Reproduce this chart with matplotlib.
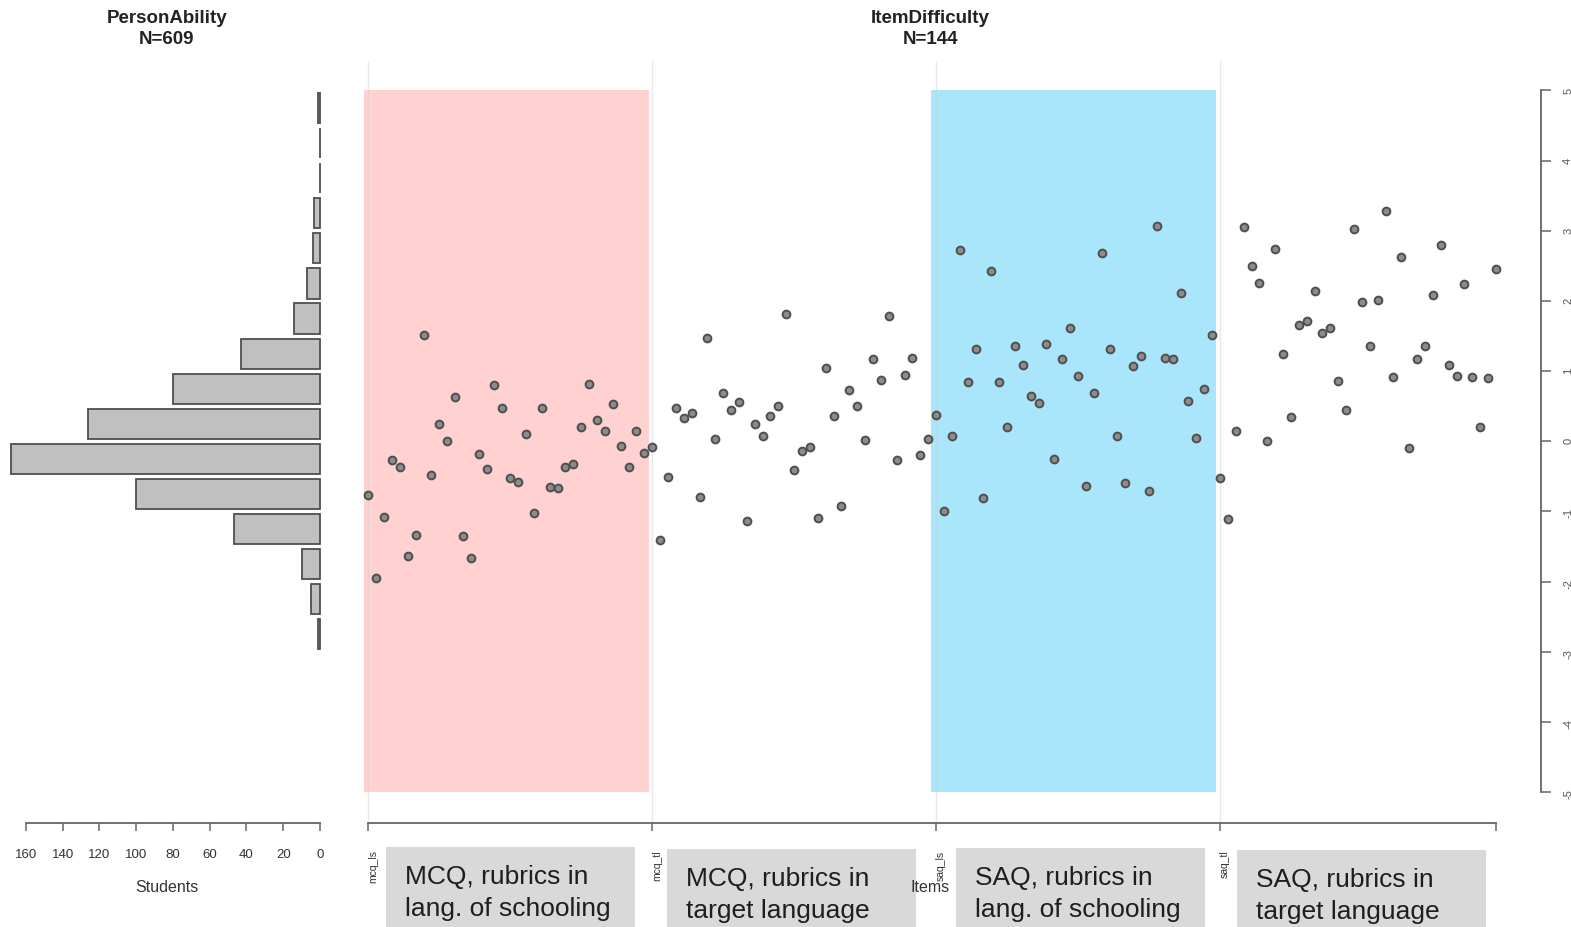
import matplotlib
matplotlib.use("Agg")
import matplotlib.pyplot as plt
from matplotlib.patches import Rectangle
import numpy as np

plt.rcParams['font.family'] = ['Liberation Sans', 'DejaVu Sans']

W, H, DPI = 1571, 928, 100

# ---------------- data ----------------
bin_centers = [4.75, 4.25, 3.75, 3.25, 2.75, 2.25, 1.75, 1.25, 0.75, 0.25,
               -0.25, -0.75, -1.25, -1.75, -2.25, -2.75]
person_counts = [1, 0, 0, 3, 4, 7, 14, 43, 80, 126, 168, 100, 47, 10, 5, 1]

mcq_ls = [-0.77, -1.95, -1.08, -0.26, -0.37, -1.64, -1.34, 1.51, -0.48, 0.24,
          0.01, 0.63, -1.35, -1.66, -0.18, -0.40, 0.80, 0.48, -0.53, -0.58,
          0.10, -1.02, 0.48, -0.65, -0.67, -0.37, -0.33, 0.21, 0.81, 0.30,
          0.14, 0.53, -0.06, -0.36, 0.14, -0.16]
mcq_tl = [-0.08, -1.40, -0.51, 0.47, 0.33, 0.40, -0.80, 1.47, 0.03, 0.69,
          0.44, 0.56, -1.14, 0.24, 0.07, 0.36, 0.50, 1.81, -0.41, -0.14,
          -0.08, -1.09, 1.04, 0.36, -0.92, 0.73, 0.51, 0.02, 1.18, 0.87,
          1.79, -0.26, 0.95, 1.19, -0.19, 0.03]
saq_ls = [0.38, -0.99, 0.08, 2.73, 0.85, 1.32, -0.81, 2.42, 0.85, 0.21,
          1.36, 1.09, 0.65, 0.54, 1.38, -0.25, 1.18, 1.61, 0.93, -0.64,
          0.69, 2.69, 1.32, 0.08, -0.59, 1.07, 1.22, -0.71, 3.07, 1.19,
          1.17, 2.12, 0.57, 0.05, 0.75, 1.52]
saq_tl = [-0.52, -1.11, 0.15, 3.05, 2.50, 2.25, 0.01, 2.74, 1.25, 0.35,
          1.66, 1.71, 2.14, 1.55, 1.62, 0.86, 0.44, 3.02, 1.99, 1.36,
          2.01, 3.28, 0.92, 2.62, -0.10, 1.18, 1.36, 2.09, 2.80, 1.09,
          0.93, 2.24, 0.91, 0.21, 0.90, 2.45]

group_labels = ["mcq_ls", "mcq_tl", "saq_ls", "saq_tl"]
group_colors = ["#FFD1D1", None, "#A9E5FB", None]
box_texts = ["MCQ, rubrics in\nlang. of schooling",
             "MCQ, rubrics in\ntarget language",
             "SAQ, rubrics in\nlang. of schooling",
             "SAQ, rubrics in\ntarget language"]
logit_ticks = [5, 4, 3, 2, 1, 0, -1, -2, -3, -4, -5]
student_ticks = [0, 20, 40, 60, 80, 100, 120, 140, 160]

# ---------------- layout helpers ----------------
def fig_rect(l, t, r, b):
    return [l / W, 1 - b / H, (r - l) / W, (b - t) / H]

NARROW = ['Liberation Sans Narrow', 'Liberation Sans', 'DejaVu Sans']
AX_COL = '#666666'
YLIM = (-5.44, 5.42)

fig = plt.figure(figsize=(W / DPI, H / DPI), dpi=DPI)
fig.patch.set_facecolor('white')

# ---------------- item difficulty panel ----------------
groups = [mcq_ls, mcq_tl, saq_ls, saq_tl]
values = np.concatenate(groups)
n_items = len(values)
items = np.arange(1, n_items + 1)
gsize = len(mcq_ls)

ax = fig.add_axes(fig_rect(340, 62, 1541, 824))
ax.patch.set_visible(False)
ax.set_xlim(-2.589, 149.71)
ax.set_ylim(*YLIM)

for g, col in enumerate(group_colors):
    if col:
        ax.add_patch(Rectangle((g * gsize + 0.4, -5), gsize + 0.15, 10,
                               facecolor=col, edgecolor='none', zorder=1))
for g in range(len(groups)):
    ax.axvline(g * gsize + 1, color='#d0d0d0', lw=1.0, alpha=0.45, zorder=1.5)

ax.plot(items, values, 'o', ms=5.6, mfc='#8c8c8c', mec='#4f4f4f', mew=1.4,
        zorder=3, clip_on=False)

for s in ['left', 'top']:
    ax.spines[s].set_visible(False)
ax.spines['bottom'].set_bounds(1, n_items)
ax.spines['right'].set_bounds(-5, 5)
for s in ['bottom', 'right']:
    ax.spines[s].set_color(AX_COL)
    ax.spines[s].set_linewidth(1.3)

tick_pos = [g * gsize + 1 for g in range(len(groups))] + [n_items]
ax.set_xticks(tick_pos)
ax.set_xticklabels(group_labels + [''])
ax.tick_params(axis='x', direction='out', length=6, width=1.1, color=AX_COL,
               labelsize=7.5, labelrotation=90, pad=13, labelcolor='#333333')
ax.yaxis.tick_right()
ax.set_yticks(logit_ticks)
ax.set_yticklabels([str(t) for t in logit_ticks])
ax.tick_params(axis='y', direction='out', length=7, width=1.1, color=AX_COL,
               labelsize=8, labelrotation=90, pad=9, labelcolor='#555555')
for lbl in ax.get_xticklabels() + ax.get_yticklabels():
    lbl.set_fontfamily(NARROW)
for lbl in ax.get_xticklabels():
    lbl.set_horizontalalignment('left')

# ---------------- person ability histogram ----------------
hx = fig.add_axes(fig_rect(26, 62, 320, 824))
hx.patch.set_visible(False)
hx.barh(bin_centers, person_counts, height=0.43, color='#c0c0c0',
        edgecolor='#4f4f4f', linewidth=1.3, zorder=2, clip_on=False)
hx.set_xlim(160, 0)
hx.set_ylim(*YLIM)
for s in ['left', 'top', 'right']:
    hx.spines[s].set_visible(False)
hx.spines['bottom'].set_bounds(0, 160)
hx.spines['bottom'].set_color(AX_COL)
hx.spines['bottom'].set_linewidth(1.3)
hx.set_yticks([])
hx.set_xticks(student_ticks)
hx.set_xticklabels([str(t) for t in student_ticks])
hx.tick_params(axis='x', direction='out', length=6, width=1.1, color=AX_COL,
               labelsize=9.5, pad=12, labelcolor='#333333')
for lbl in hx.get_xticklabels():
    lbl.set_fontfamily(NARROW)

# ---------------- titles and axis names ----------------
fig.text(167 / W, 1 - 29 / H, f"PersonAbility\nN={sum(person_counts)}",
         ha='center', va='center', fontsize=13.5, fontweight='bold',
         linespacing=1.25, color='#222222')
fig.text(930 / W, 1 - 29 / H, f"ItemDifficulty\nN={n_items}",
         ha='center', va='center', fontsize=13.5, fontweight='bold',
         linespacing=1.25, color='#222222')
fig.text(167 / W, 1 - 888 / H, "Students", ha='center', va='center',
         fontsize=11.5, color='#333333', family=NARROW)
fig.text(930 / W, 1 - 888 / H, "Items", ha='center', va='center',
         fontsize=11.5, color='#333333', family=NARROW)

# ---------------- annotation boxes ----------------
box_left = [386, 667, 956, 1237]
box_top = [848, 850, 849, 851]
box_w = 249
for l, t, txt in zip(box_left, box_top, box_texts):
    fig.add_artist(Rectangle((l / W, 0), box_w / W, 1 - t / H,
                             transform=fig.transFigure, facecolor='#d9d9d9',
                             edgecolor='none', zorder=0))
    fig.text((l + 19) / W, 1 - (t + 45) / H, txt, ha='left', va='center',
             fontsize=19, linespacing=1.45, color='#1e1e1e')

fig.savefig("out.png", dpi=DPI, facecolor='white')
